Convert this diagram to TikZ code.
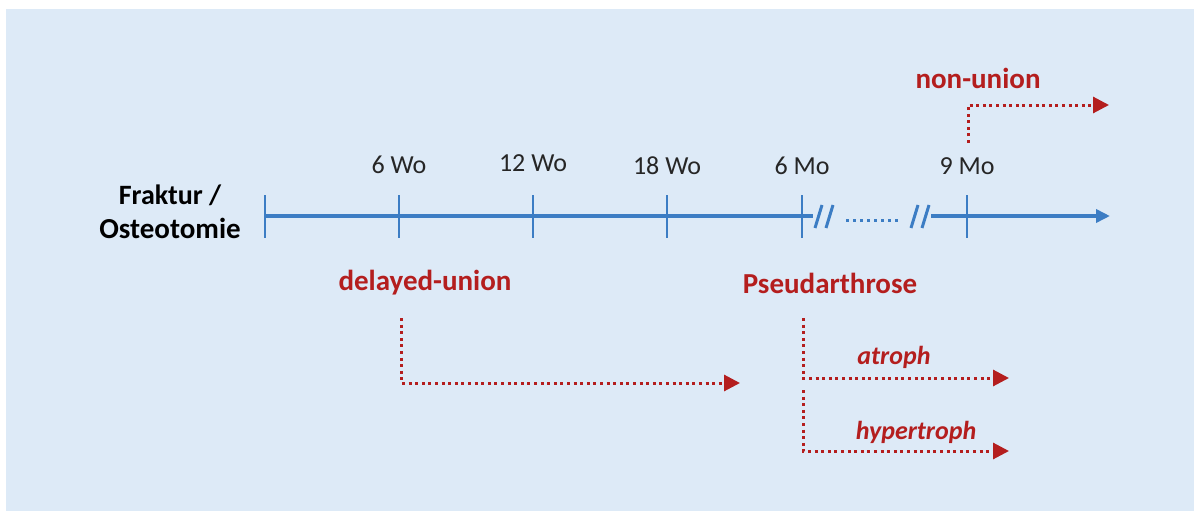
\documentclass[tikz,border=0pt]{standalone}
\usepackage{fontspec}
\setmainfont{Carlito}
\usetikzlibrary{arrows.meta}

\definecolor{bgblue}{HTML}{DDEAF7}
\definecolor{lineblue}{HTML}{3C7DC4}
\definecolor{darkred}{HTML}{B41E1E}
\definecolor{txtgray}{HTML}{262626}
\tikzstyle{tick} = [lineblue, line width=2.5pt]
\tikzstyle{axis} = [lineblue, line width=3.5pt]
\tikzstyle{slash} = [lineblue, line width=3pt]
\tikzstyle{week} = [text=txtgray, inner sep=0pt, font=\fontsize{26}{30}\selectfont]
\tikzstyle{stage} = [text=darkred, inner sep=0pt, font=\fontsize{29}{34}\selectfont\bfseries]
\tikzstyle{kind} = [text=darkred, inner sep=0pt, font=\fontsize{26}{30}\selectfont\bfseries\itshape]
\tikzstyle{dotarrow} = [darkred, line width=3pt, dash pattern=on 3pt off 3.6pt,
	-{Triangle[length=16pt,width=16pt]}]

\begin{document}
\begin{tikzpicture}[x=1pt, y=-1pt]
	\useasboundingbox (0,0) rectangle (1194,511);
	\fill[bgblue] (6,9) rectangle (1194,511);
	% time axis
	\foreach \x [count=\i from 0] in {265,399,533,667,802,967} {
		\coordinate (t\i) at (\x,216);
		\draw[tick] (\x,195) -- (\x,238);
	}
	\coordinate (b0) at (813,216);
	\coordinate (b1) at (931,216);
	\coordinate (tend) at (1110,216);
	\draw[axis] (t0) -- (b0);
	\draw[axis, -{Triangle[length=14pt,width=13pt]}] (b1) -- (tend);
	\draw[slash] (815,228) -- (822,205) (826,228) -- (833,205);
	\draw[slash] (911,228) -- (918,205) (922,228) -- (929,205);
	\draw[lineblue, line width=3pt, dash pattern=on 3pt off 4pt] (846,220) -- (901,220);
	% labels
	\node[stage, text=black, align=center] (start) at (170,212)
		{\fontsize{28}{38}\selectfont Fraktur /\\Osteotomie};
	\node[week] (w6) at (399,165) {6 Wo};
	\node[week] (w12) at (533,163) {12 Wo};
	\node[week] (w18) at (667,166) {18 Wo};
	\node[week] (m6) at (802,166) {6 Mo};
	\node[week] (m9) at (967,166) {9 Mo};
	\node[stage] (delayed) at (425,283) {delayed-union};
	\node[stage] (pseud) at (830,283) {Pseudarthrose};
	\node[stage] (nonunion) at (978,78) {non-union};
	\node[kind] (atroph) at (894,357) {atroph};
	\node[kind] (hyper) at (916,432) {hypertroph};
	% outcomes
	\coordinate (d0) at (401,318);
	\coordinate (d1) at (740,383);
	\coordinate (a0) at (803,318);
	\coordinate (a1) at (1009,378);
	\coordinate (h0) at (803,390);
	\coordinate (h1) at (1009,451);
	\coordinate (n0) at (968,143);
	\coordinate (n1) at (1109,105);
	\draw[dotarrow] (d0) |- (d1);
	\draw[dotarrow] (a0) |- (a1);
	\draw[dotarrow] (h0) |- (h1);
	\draw[dotarrow] (n0) |- (n1);
\end{tikzpicture}
\end{document}
